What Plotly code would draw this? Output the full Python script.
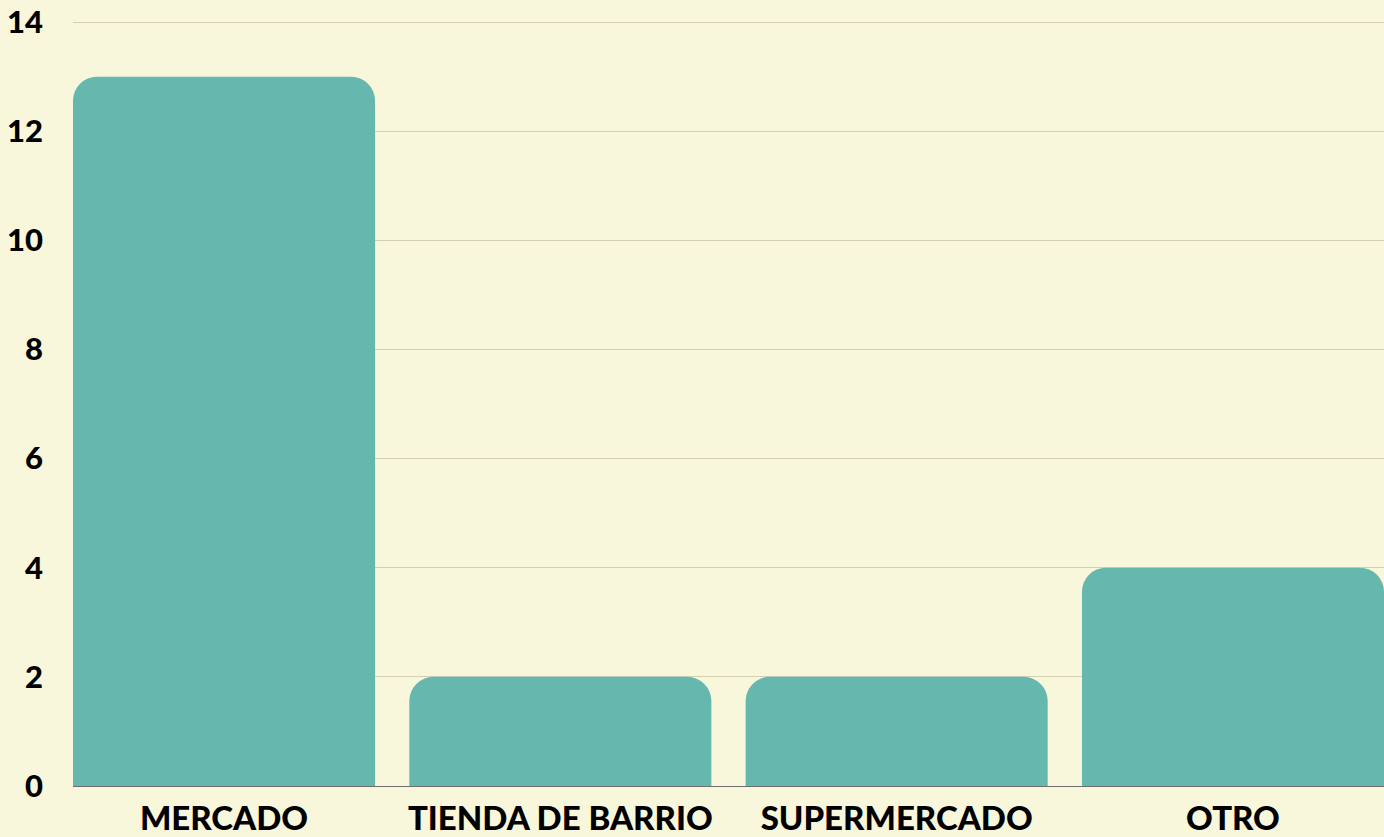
import plotly.graph_objects as go

# categories and counts
categorias = ['MERCADO', 'TIENDA DE BARRIO', 'SUPERMERCADO', 'OTRO']
valores = [13, 2, 2, 4]
y_ticks = [0, 2, 4, 6, 8, 10, 12, 14]

fondo = '#F8F6DB'
verde = '#66B7AE'

fig = go.Figure(
    go.Bar(
        x=categorias,
        y=valores,
        marker={'color': verde, 'line': {'width': 0}},
        hoverinfo='x+y',
    )
)

fig.update_layout(
    width=1384,
    height=837,
    paper_bgcolor=fondo,
    plot_bgcolor=fondo,
    margin={'l': 73, 'r': 0, 't': 21, 'b': 51},
    bargap=0.102,
    barcornerradius=24,
    showlegend=False,
    font={'family': 'Lato', 'color': '#000000'},
)

fig.update_xaxes(
    range=[-0.449, 3.449],
    showgrid=False,
    showline=False,
    tickfont={'size': 33, 'family': 'Lato', 'weight': 900},
    ticklabelstandoff=10,
)

fig.update_yaxes(
    # a hair above 14 so the top gridline is still drawn
    range=[0, 14.02],
    tickvals=y_ticks,
    showgrid=True,
    gridcolor='#D3D0B4',
    gridwidth=1,
    zeroline=True,
    zerolinecolor='#6E6E6E',
    zerolinewidth=1,
    tickfont={'size': 31, 'family': 'Lato', 'weight': 900},
    ticklabelstandoff=29,
)

# drop the default page margin so the figure sits at the window corner
fig.write_html(
    'out.html',
    config={'displayModeBar': False},
    post_script="document.body.style.margin='0';document.body.style.background='#F8F6DB';",
)
